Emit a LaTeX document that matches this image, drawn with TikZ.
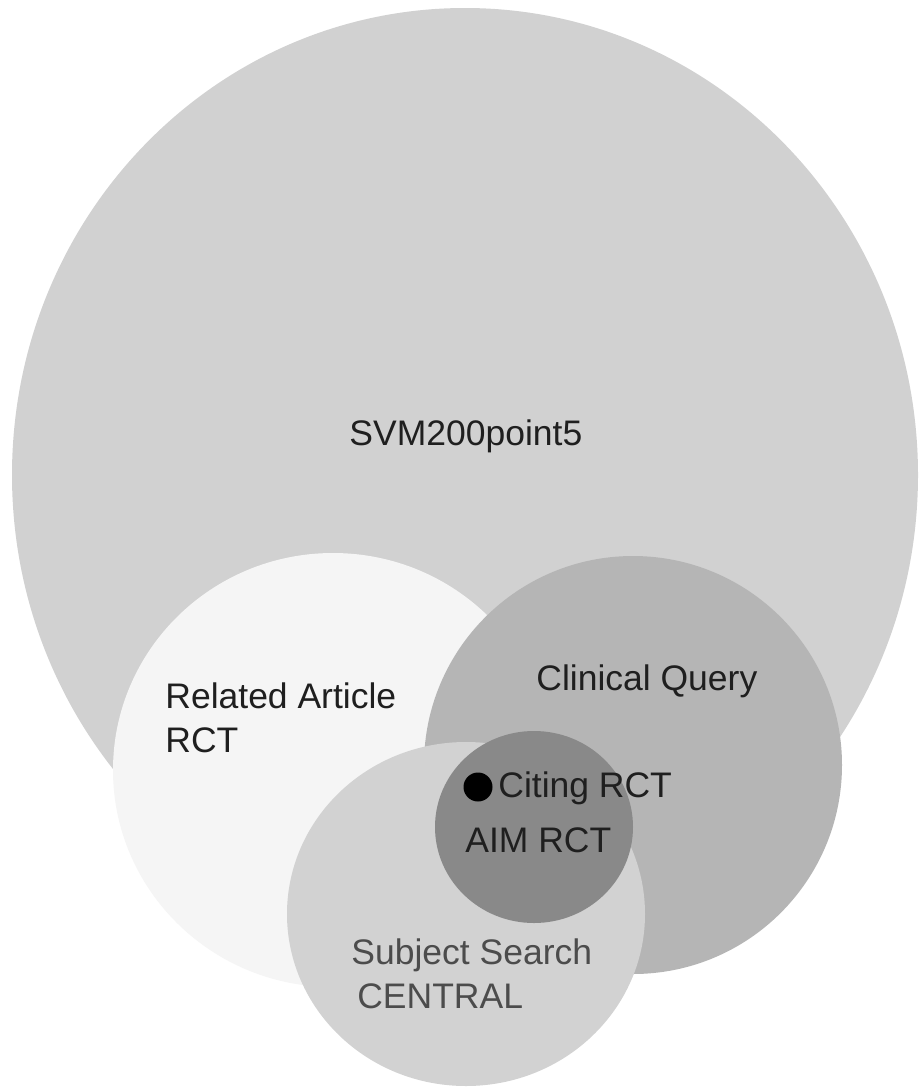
\documentclass[tikz,border=0pt]{standalone}
\usepackage{fontspec}
\setmainfont{Liberation Sans}
\usetikzlibrary{shapes.geometric}

\definecolor{svmgray}{HTML}{D1D1D1}
\definecolor{ragray}{HTML}{F5F5F5}
\definecolor{cqgray}{HTML}{B5B5B5}
\definecolor{ssgray}{HTML}{D2D2D2}
\definecolor{aimgray}{HTML}{898989}

\begin{document}
\begin{tikzpicture}[
  x=0.5pt, y=-0.5pt,
  font=\fontsize{17.75}{22}\selectfont,
  set/.style={ellipse, inner sep=0pt, draw=none},
  lbl/.style={anchor=base west, inner sep=0pt, text=black!88, align=left}
]
  \useasboundingbox[fill=white] (0,0) rectangle (918,1087);

  % sets, back to front
  \node[set, fill=svmgray, minimum width=453pt, minimum height=467pt] (svm) at (465,475) {};
  \node[set, fill=ragray, minimum width=220pt, minimum height=217pt] (ra) at (333,770) {};
  \node[set, fill=cqgray, minimum width=209pt, minimum height=209pt] (cq) at (633,765) {};
  \node[set, fill=ssgray, minimum width=179pt, minimum height=172pt] (ss) at (466,914) {};
  \node[set, fill=aimgray, minimum width=99pt, minimum height=96pt] (aim) at (534,827) {};
  \node[set, fill=black, minimum width=14.5pt, minimum height=14.5pt] (dot) at (478,787) {};

  % labels (base of a two-line label is its last line)
  \node[lbl] (svmlbl) at (349,445) {SVM200point5};
  \node[lbl] (ralbl) at (165,752) {Related Article\\RCT};
  \node[lbl] (cqlbl) at (536,690) {Clinical Query};
  \node[lbl] (citelbl) at (498,797) {Citing RCT};
  \node[lbl] (aimlbl) at (465,852) {AIM RCT};
  \node[lbl, text=black!70] (sslbl) at (351,1008) {Subject Search\\\,CENTRAL};
\end{tikzpicture}
\end{document}
